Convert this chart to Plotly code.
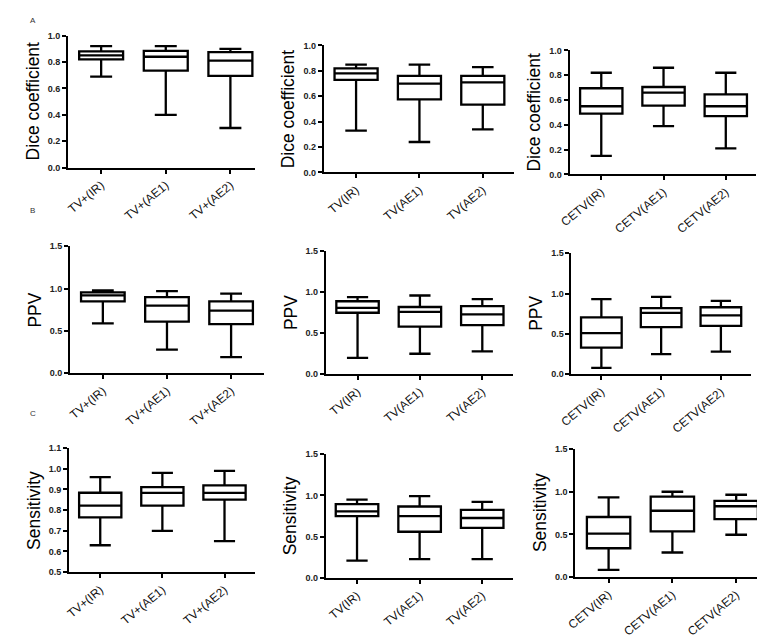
import plotly.graph_objects as go

W, H = 765, 641

# ---------------- data ----------------
cats_A = [["TV+(IR)", "TV+(AE1)", "TV+(AE2)"], ["TV(IR)", "TV(AE1)", "TV(AE2)"], ["CETV(IR)", "CETV(AE1)", "CETV(AE2)"]]
row_titles = ["Dice coefficient", "PPV", "Sensitivity"]

# [min, q1, median, q3, max] per category
dice_tvplus = [[0.69, 0.82, 0.85, 0.88, 0.92], [0.40, 0.735, 0.84, 0.885, 0.92], [0.30, 0.695, 0.81, 0.875, 0.90]]
dice_tv = [[0.33, 0.73, 0.78, 0.82, 0.85], [0.24, 0.575, 0.70, 0.76, 0.85], [0.34, 0.535, 0.71, 0.76, 0.83]]
dice_cetv = [[0.15, 0.49, 0.55, 0.695, 0.82], [0.39, 0.555, 0.66, 0.705, 0.86], [0.21, 0.47, 0.55, 0.645, 0.82]]

ppv_tvplus = [[0.59, 0.85, 0.92, 0.955, 0.98], [0.28, 0.61, 0.80, 0.90, 0.97], [0.19, 0.58, 0.74, 0.85, 0.94]]
ppv_tv = [[0.20, 0.75, 0.81, 0.89, 0.94], [0.25, 0.58, 0.76, 0.82, 0.96], [0.28, 0.60, 0.73, 0.83, 0.915]]
ppv_cetv = [[0.08, 0.33, 0.51, 0.705, 0.93], [0.25, 0.585, 0.76, 0.82, 0.96], [0.28, 0.60, 0.73, 0.83, 0.91]]

sens_tvplus = [[0.63, 0.765, 0.822, 0.884, 0.96], [0.70, 0.822, 0.883, 0.911, 0.98], [0.65, 0.851, 0.883, 0.92, 0.99]]
sens_tv = [[0.21, 0.75, 0.806, 0.893, 0.948], [0.23, 0.56, 0.75, 0.865, 0.99], [0.23, 0.607, 0.726, 0.825, 0.92]]
sens_cetv = [[0.085, 0.338, 0.51, 0.704, 0.935], [0.288, 0.535, 0.777, 0.942, 1.0], [0.496, 0.68, 0.83, 0.892, 0.965]]

panel_data = [[dice_tvplus, dice_tv, dice_cetv],
              [ppv_tvplus, ppv_tv, ppv_cetv],
              [sens_tvplus, sens_tv, sens_cetv]]

y_ticks = [[[0.0, 0.2, 0.4, 0.6, 0.8, 1.0]] * 3,
           [[0.0, 0.5, 1.0, 1.5]] * 3,
           [[0.5, 0.6, 0.7, 0.8, 0.9, 1.0, 1.1], [0.0, 0.5, 1.0, 1.5], [0.0, 0.5, 1.0, 1.5]]]
row_letters = ["A", "B", "C"]

# ---------------- layout geometry (pixels) ----------------
# (x_left, x_right, y_top, y_bottom, x_range)
geom = [
    [(48, 238, 23, 157, [-0.51, 2.38]), (308, 502, 33, 162, [-0.51, 2.5]), (558, 748, 38, 164, [-0.51, 2.49])],
    [(50, 247, 237, 366, [-0.51, 2.51]), (310, 501, 242, 367, [-0.51, 2.5]), (560, 743, 244, 367, [-0.5, 2.51])],
    [(49, 238, 442, 568, [-0.5, 2.49]), (310, 501, 448, 574, [-0.5, 2.5]), (564, 760, 443, 573, [-0.52, 2.5])],
]
letter_pos = [(12, 8), (12, 201), (12, 407)]

fig = go.Figure()
annotations = []
layout_axes = {}

tick_font = dict(family="Liberation Sans, Arial", size=9, color="#222222", weight="bold")
for r in range(3):
    for c in range(3):
        idx = r * 3 + c + 1
        xa = "x" if idx == 1 else f"x{idx}"
        ya = "y" if idx == 1 else f"y{idx}"
        xl, xr, yt, yb, xrange = geom[r][c]
        cats = cats_A[c]
        vals = panel_data[r][c]
        fig.add_trace(go.Box(
            x=cats,
            lowerfence=[v[0] for v in vals],
            q1=[v[1] for v in vals],
            median=[v[2] for v in vals],
            q3=[v[3] for v in vals],
            upperfence=[v[4] for v in vals],
            boxpoints=False,
            width=0.68,
            whiskerwidth=0.5,
            fillcolor="white",
            line=dict(color="black", width=2.3),
            xaxis=xa, yaxis=ya, showlegend=False, hoverinfo="skip",
        ))
        tv = y_ticks[r][c]
        layout_axes["xaxis" + ("" if idx == 1 else str(idx))] = dict(
            domain=[xl / W, xr / W], anchor=ya, type="category",
            range=xrange, showline=True, linecolor="black", linewidth=2,
            ticks="outside", ticklen=4, tickwidth=2, tickcolor="black",
            tickangle=-40, showgrid=False, zeroline=False,
            tickfont=dict(family="Liberation Sans, Arial", size=12, color="#111111"),
        )
        layout_axes["yaxis" + ("" if idx == 1 else str(idx))] = dict(
            domain=[1 - yb / H, 1 - yt / H], anchor=xa,
            range=[tv[0], tv[-1]], tickvals=tv, ticktext=[f"{t:.1f}" for t in tv],
            showline=True, linecolor="black", linewidth=2,
            ticks="outside", ticklen=4, tickwidth=2, tickcolor="black",
            showgrid=False, zeroline=False,
            tickfont=tick_font,
        )
        annotations.append(dict(
            text=row_titles[r], textangle=-90, showarrow=False,
            xref="paper", yref="paper", x=(xl - 36) / W, y=1 - (yt + yb) / 2 / H,
            xanchor="center", yanchor="middle",
            font=dict(family="Liberation Sans, Arial", size=17.5, color="black"),
        ))
    lx, ly = letter_pos[r]
    annotations.append(dict(
        text=row_letters[r], showarrow=False, xref="paper", yref="paper",
        x=lx / W, y=1 - ly / H, xanchor="center", yanchor="middle",
        font=dict(family="Liberation Sans, Arial", size=8, color="#333333"),
    ))

fig.update_layout(
    width=W, height=H, margin=dict(l=0, r=0, t=0, b=0),
    paper_bgcolor="white", plot_bgcolor="white",
    annotations=annotations, **layout_axes,
)

fig.write_html("out.html")
